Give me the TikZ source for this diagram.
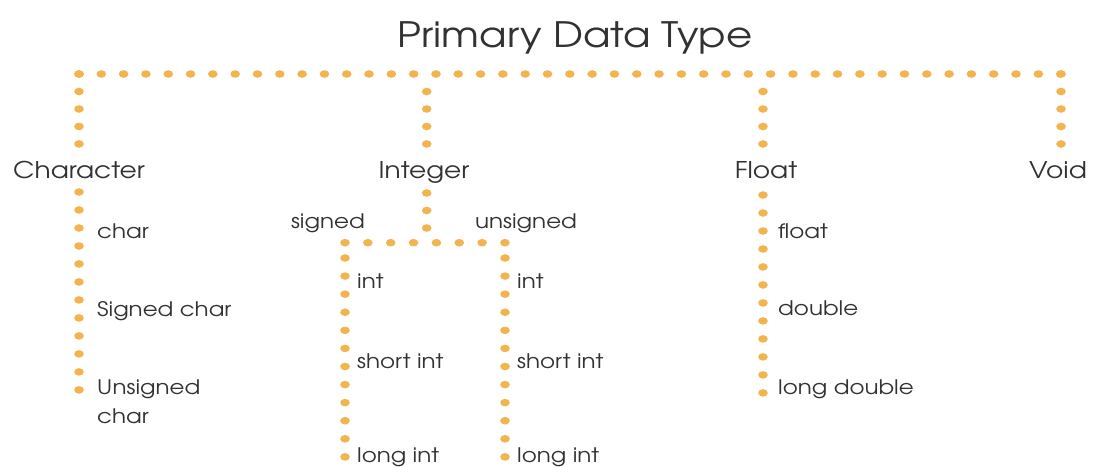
\documentclass[tikz,border=0pt]{standalone}
\usepackage{fontspec}
\setmainfont{texgyreadventor}[Extension=.otf, UprightFont=*-regular, BoldFont=*-bold, FakeStretch=1.15]
\usetikzlibrary{decorations.markings}
\definecolor{dotc}{RGB}{242,180,78}
\definecolor{txtc}{RGB}{50,50,50}
\tikzset{
  dotrow/.style={decorate, decoration={markings,
     mark=between positions 0 and 1 step #1 with {\pgftransformresetnontranslations\fill[dotc] (0,0) ellipse (4.8pt and 3.8pt);}}},
  head/.style={anchor=base, inner sep=0pt, text=txtc, font=\fontsize{23}{27}\selectfont},
  leaf/.style={anchor=base west, inner sep=0pt, text=txtc, font=\fontsize{20}{29}\selectfont, align=left},
  titlet/.style={anchor=base, inner sep=0pt, text=txtc, font=\fontsize{35}{40}\selectfont}
}
\begin{document}
\begin{tikzpicture}[x=1pt,y=-1pt]
\useasboundingbox[fill=white] (0,0) rectangle (1097,466);
% title
\node[titlet] (title) at (575,47) {Primary Data Type};
% headers
\node[head] (character) at (79,178) {Character};
\node[head] (integer) at (424,178) {Integer};
\node[head] (float) at (766,178) {Float};
\node[head] (void) at (1058,178) {Void};
% coordinates of the dotted connectors
\coordinate (rowL) at (79,74);
\coordinate (rowR) at (1061,74);
\coordinate (chA) at (79,144);
\coordinate (inT) at (426.7,91.5);
\coordinate (inA) at (426.7,144);
\coordinate (flT) at (763,91.5);
\coordinate (flA) at (763,144);
\coordinate (voA) at (1061,144);
\coordinate (chB) at (79,192);
\coordinate (chE) at (79,390);
\coordinate (inB) at (426.7,193);
\coordinate (inE) at (426.7,228);
\coordinate (subL) at (345,242.7);
\coordinate (subR) at (505,242.7);
\coordinate (sgB) at (345,258);
\coordinate (sgE) at (345,457);
\coordinate (usB) at (505,258);
\coordinate (usE) at (505,457);
\coordinate (flB) at (763,195);
\coordinate (flE) at (763,393);
% top connectors
\path[dotrow=22.31pt] (rowL) -- (rowR);
\path[dotrow=17.49pt] (rowL) -- (chA);
\path[dotrow=17.49pt] (inT) -- (inA);
\path[dotrow=17.49pt] (flT) -- (flA);
\path[dotrow=17.49pt] (rowR) -- (voA);
% lower connectors
\path[dotrow=17.99pt] (chB) -- (chE);
\path[dotrow=17.49pt] (inB) -- (inE);
\path[dotrow=22.85pt] (subL) -- (subR);
\path[dotrow=18.08pt] (sgB) -- (sgE);
\path[dotrow=18.08pt] (usB) -- (usE);
\path[dotrow=17.99pt] (flB) -- (flE);
% leaves
\node[leaf] (cchar) at (97,238) {char};
\node[leaf] (schar) at (97,316) {Signed char};
\node[leaf] (uchar) at (97,423) {Unsigned\\char};
\node[anchor=base east, inner sep=0pt, text=txtc, font=\fontsize{20}{29}\selectfont] (signed) at (365,228) {signed};
\node[leaf] (unsigned) at (475,228) {unsigned};
\node[leaf] (sint) at (357,288) {int};
\node[leaf] (sshort) at (357,368) {short int};
\node[leaf] (slong) at (357,462) {long int};
\node[leaf] (uint) at (517,288) {int};
\node[leaf] (ushort) at (517,368) {short int};
\node[leaf] (ulong) at (517,462) {long int};
\node[leaf] (ffloat) at (778,238) {float};
\node[leaf] (fdouble) at (778,315) {double};
\node[leaf] (flong) at (778,394) {long double};
\end{tikzpicture}
\end{document}
